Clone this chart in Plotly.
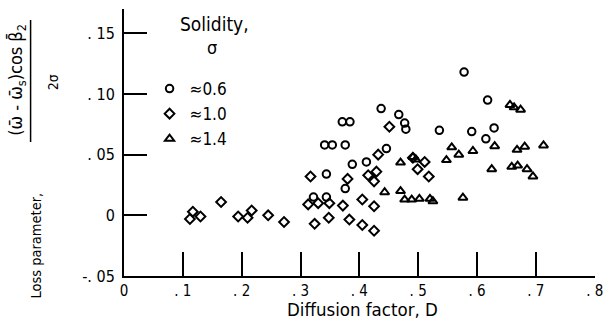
import plotly.graph_objects as go

# ---- data ----
circle_D = [0.578, 0.618, 0.437, 0.467, 0.477, 0.479, 0.371, 0.384, 0.536, 0.591, 0.629,
            0.615, 0.341, 0.354, 0.376, 0.446, 0.388, 0.412, 0.344, 0.376, 0.322, 0.344]
circle_L = [0.118, 0.095, 0.088, 0.083, 0.076, 0.071, 0.077, 0.077, 0.070, 0.069, 0.072,
            0.063, 0.058, 0.058, 0.058, 0.055, 0.042, 0.044, 0.034, 0.022, 0.015, 0.015]

diamond_D = [0.112, 0.117, 0.130, 0.165, 0.194, 0.210, 0.217, 0.245, 0.272, 0.317, 0.313,
             0.330, 0.349, 0.372, 0.405, 0.425, 0.324, 0.348, 0.383, 0.405, 0.425, 0.380,
             0.415, 0.429, 0.425, 0.432, 0.451, 0.491, 0.499, 0.511, 0.518]
diamond_L = [-0.003, 0.003, -0.001, 0.011, -0.001, -0.002, 0.004, 0.000, -0.0055, 0.032, 0.009,
             0.010, 0.010, 0.008, 0.013, 0.0075, -0.007, -0.002, -0.0035, -0.008, -0.0127, 0.030,
             0.033, 0.036, 0.028, 0.050, 0.073, 0.0475, 0.038, 0.044, 0.032]

triangle_D = [0.443, 0.470, 0.470, 0.477, 0.489, 0.502, 0.520, 0.525, 0.576, 0.557, 0.569,
              0.548, 0.593, 0.630, 0.656, 0.663, 0.674, 0.668, 0.681, 0.713, 0.625, 0.659,
              0.669, 0.685, 0.695, 0.491, 0.496]
triangle_L = [0.019, 0.020, 0.0435, 0.013, 0.013, 0.0136, 0.0136, 0.0116, 0.0145, 0.056, 0.050,
              0.0455, 0.053, 0.057, 0.091, 0.089, 0.087, 0.054, 0.0566, 0.0576, 0.038, 0.040,
              0.041, 0.038, 0.032, 0.048, 0.046]

x_tickvals = [0, 0.1, 0.2, 0.3, 0.4, 0.5, 0.6, 0.7, 0.8]
x_ticktext = ["0", ". 1", ". 2", ". 3", ". 4", ". 5", ". 6", ". 7", ". 8"]
y_tickvals = [-0.05, 0, 0.05, 0.10, 0.15]
y_ticktext = ["-. 05", "0", ". 05", ". 10", ". 15"]

FONT = "DejaVu Sans Condensed, DejaVu Sans, sans-serif"

fig = go.Figure()
mk = dict(color="black", line=dict(color="black", width=2))
fig.add_trace(go.Scatter(x=circle_D, y=circle_L, mode="markers", name="≈0.6",
                         marker=dict(symbol="circle-open", size=7.5, **mk)))
fig.add_trace(go.Scatter(x=diamond_D, y=diamond_L, mode="markers", name="≈1.0",
                         marker=dict(symbol="diamond-open", size=7.5, **mk)))
fig.add_trace(go.Scatter(x=triangle_D, y=triangle_L, mode="markers", name="≈1.4",
                         marker=dict(symbol="triangle-up-open", size=8, **mk)))

W, H = 611, 322
L_, R_, T_, B_ = 124, 8, 9, 46
pw, ph = W - L_ - R_, H - T_ - B_

def px(xp):
    return (xp - L_) / pw

def py(yp):
    return (H - B_ - yp) / ph

fig.update_layout(
    width=W, height=H,
    margin=dict(l=L_, r=R_, t=T_, b=B_),
    paper_bgcolor="white", plot_bgcolor="white",
    font=dict(family=FONT, color="black", size=15),
    showlegend=True,
    legend=dict(x=px(150), y=py(71), xanchor="left", yanchor="top",
                font=dict(size=17, family=FONT), bgcolor="rgba(0,0,0,0)",
                tracegroupgap=0),
    xaxis=dict(range=[0, 0.8005], tickvals=x_tickvals, ticktext=x_ticktext,
               showline=True, linecolor="black", linewidth=2, mirror=False,
               ticks="inside", ticklen=24, tickwidth=2, tickcolor="black",
               showgrid=False, zeroline=False, tickfont=dict(size=15),
               ticklabeloverflow="allow"),
    yaxis=dict(range=[-0.05, 0.17], tickvals=y_tickvals, ticktext=y_ticktext,
               showline=True, linecolor="black", linewidth=2, mirror=False,
               ticks="inside", ticklen=23, tickwidth=2, tickcolor="black",
               showgrid=False, zeroline=False, tickfont=dict(size=16),
               ticklabelstandoff=4),
)

ann = [
    dict(text="Diffusion factor, D", x=px(367), y=py(309), font=dict(size=18.5)),
    dict(text="Solidity,", x=px(216), y=py(24), font=dict(size=19)),
    dict(text="σ", x=px(213), y=py(47), font=dict(size=18)),
    dict(text="Loss parameter,", x=px(35), y=py(245), textangle=-90, font=dict(size=14.5)),
    dict(text="(ω̄ - ω̄<sub>s</sub>)cos β̄<sub>2</sub>", x=px(15), y=py(80), textangle=-90,
         font=dict(size=18)),
    dict(text="2σ", x=px(52), y=py(82), textangle=-90, font=dict(size=14)),
]
for a in ann:
    fig.add_annotation(xref="paper", yref="paper", showarrow=False,
                       xanchor="center", yanchor="middle", **a)

fig.add_shape(type="line", xref="paper", yref="paper",
              x0=px(29), x1=px(29), y0=py(20), y1=py(142),
              line=dict(color="black", width=1.5))

fig.write_html("out.html")
